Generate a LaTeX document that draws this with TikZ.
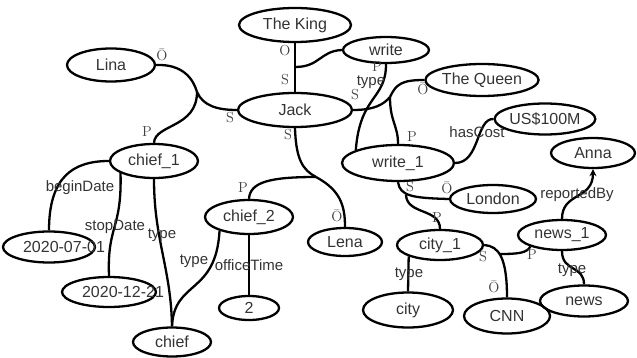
\documentclass[tikz,border=0pt]{standalone}
\usepackage{fontspec}
\newfontfamily\sansf{Liberation Sans}
\usetikzlibrary{shapes.geometric,arrows.meta}
\definecolor{txt}{HTML}{333333}
\definecolor{rolec}{HTML}{404040}
\tikzset{
  ent/.style={ellipse, draw=black, line width=2.3pt, inner sep=0pt,
    text=txt, font=\sansf\fontsize{16}{18}\selectfont},
  rel/.style={text=txt, inner sep=0pt, font=\sansf\fontsize{15}{17}\selectfont},
  role/.style={text=rolec, inner sep=0pt, font=\fontsize{14.5}{16}\selectfont},
  link/.style={draw=black, line width=2.3pt},
}
\newcommand{\ent}[6]{\node[ent, minimum width=#4pt, minimum height=#5pt] (#1) at (#2,#3) {#6};}
% text set off-centre inside its ellipse
\newcommand{\offtext}[2]{\makebox[0pt]{\hspace*{#1}#2}}
\begin{document}
\begin{tikzpicture}[x=1pt,y=-1pt]
\useasboundingbox (0,0) rectangle (637,358);

% entities and facts
\ent{king}{295}{25}{112}{34}{The King}
\ent{write}{386}{50}{86}{26}{write}
\ent{lina}{111}{65}{88}{33}{Lina}
\ent{queen}{482}{80}{106}{32}{The Queen}
\ent{jack}{295}{110}{114}{34}{Jack}
\ent{usd}{545}{119}{90}{31}{US\$100M}
\ent{chiefA}{154}{161}{88}{34}{chief\_1}
\ent{writeA}{398}{163}{112}{36}{write\_1}
\ent{anna}{593}{153}{84}{30}{Anna}
\ent{london}{493}{199}{86}{28}{London}
\ent{chiefB}{249}{217}{88}{34}{chief\_2}
\ent{newsA}{562}{235}{88}{30}{news\_1}
\ent{cityA}{440}{245}{86}{30}{city\_1}
\ent{lena}{345}{242}{74}{28}{Lena}
\ent{dA}{49}{247}{92}{31}{\offtext{30pt}{2020-07-01}}
\ent{dB}{109}{292}{94}{30}{\offtext{28pt}{2020-12-21}}
\ent{two}{249}{308}{60}{24}{2}
\ent{city}{408}{310}{90}{35}{city}
\ent{cnn}{507}{316}{86}{35}{CNN}
\ent{news}{584}{301}{88}{31}{news}
\ent{chief}{172}{342}{78}{29}{chief}

% hyperedge joints
\coordinate (hA) at (197,92);
\coordinate (hB) at (295,67);
\coordinate (hC) at (390,97);
\coordinate (hD) at (316,177);
\coordinate (hE) at (406,195);
\coordinate (hF) at (500,254);

% Lina / Jack / chief_1
\draw[link] (lina.east) .. controls (182,64) and (193,78) .. (hA);
\draw[link] (hA) .. controls (203,106) and (218,110) .. (jack.west);
\draw[link] (hA) .. controls (197,128) and (155,124) .. (chiefA.north);

% The King / Jack / write
\draw[link] (king.south) -- (jack.north);
\draw[link] (hB) .. controls (320,67) and (320,51) .. (write.west);

% Jack / The Queen / write_1
\draw[link] (jack.east) .. controls (375,110) and (384,104) .. (hC);
\draw[link] (hC) .. controls (396,84) and (402,80) .. (queen.west);
\draw[link] (hC) .. controls (390,122) and (398,125) .. (writeA.north);
\draw[link] (write.south) .. controls (386,100) and (360,95) .. (writeA.163);

% Jack / chief_2 / Lena
\draw[link] (jack.south) .. controls (296,160) and (303,170) .. (hD);
\draw[link] (hD) .. controls (340,190) and (345,205) .. (lena.north);
\draw[link] (hD) .. controls (270,177) and (250,182) .. (chiefB.north);

% chief_1 attributes
\draw[link] (chiefA.west) .. controls (72,161) and (49,178) .. (dA.north);
\draw[link] (chiefA.200) .. controls (122,230) and (107,225) .. (dB.north);
\draw[link] (chiefA.south) .. controls (154,240) and (171,268) .. (chief.north);

% chief_2 attributes
\draw[link] (chiefB.205) .. controls (216,295) and (174,280) .. (chief.north);
\draw[link] (chiefB.south) -- (two.north);

% write_1 attributes
\draw[link] (writeA.east) .. controls (480,163) and (476,118) .. (usd.west);
\draw[link] (writeA.south) .. controls (400,196) and (412,198) .. (london.west);
\draw[link] (hE) .. controls (407,215) and (440,208) .. (cityA.north);

% city_1 / news_1
\draw[link] (cityA.200) -- (city.north);
\draw[link] (cityA.east) .. controls (499,246) and (507,258) .. (cnn.north);
\draw[link] (hF) .. controls (518,254) and (527,253) .. (newsA.200);
\draw[link, -{Stealth[length=7pt,width=7pt]}] (newsA.north) .. controls (562,192) and (593,200) .. (anna.south);
\draw[link] (newsA.south) .. controls (562,272) and (584,265) .. (news.north);

% relation labels
\node[rel] (tWrite) at (371,82) {type};
\node[rel] (tCost) at (477,132) {hasCost};
\node[rel] (tBegin) at (80,188) {beginDate};
\node[rel] (tStop) at (115,227) {stopDate};
\node[rel] (tChiefA) at (162,235) {type};
\node[rel] (tChiefB) at (194,261) {type};
\node[rel] (tOffice) at (249,265) {officeTime};
\node[rel] (tCity) at (409,274) {type};
\node[rel] (tRep) at (577,195) {reportedBy};
\node[rel] (tNews) at (572,270) {type};

% role labels
\node[role] (r1) at (162,55) {\=O};
\node[role] (r2) at (230,118) {S};
\node[role] (r3) at (147,132) {P};
\node[role] (r4) at (285,51) {O};
\node[role] (r5) at (285,80) {S};
\node[role] (r6) at (377,67) {P};
\node[role] (r7) at (355,95) {S};
\node[role] (r8) at (423,89) {\=O};
\node[role] (r9) at (412,137) {P};
\node[role] (r10) at (288,135) {S};
\node[role] (r11) at (243,188) {P};
\node[role] (r12) at (337,216) {\=O};
\node[role] (r13) at (410,187) {S};
\node[role] (r14) at (447,188) {\=O};
\node[role] (r15) at (437,218) {P};
\node[role] (r16) at (483,257) {S};
\node[role] (r17) at (532,255) {P};
\node[role] (r18) at (494,287) {\=O};
\end{tikzpicture}
\end{document}
